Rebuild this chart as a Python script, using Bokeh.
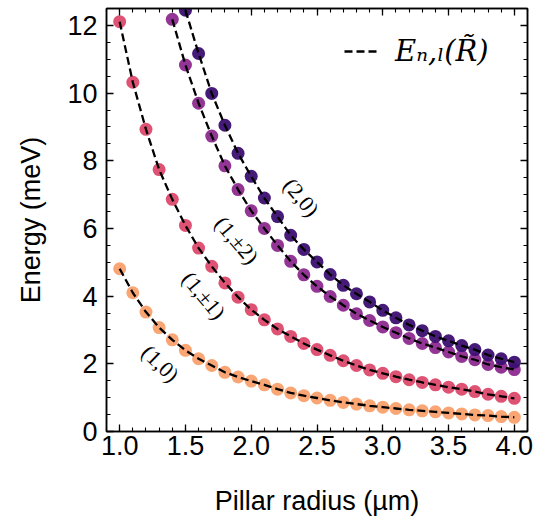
from bokeh.plotting import figure
from bokeh.models import (Range1d, LinearAxis, SingleIntervalTicker, PrintfTickFormatter,
                          CustomJSTickFormatter, Label, Legend, LegendItem, ColumnDataSource)
from bokeh.embed import file_html
from bokeh.resources import INLINE

# ---------------- data ----------------
R_all = [1.0, 1.1, 1.2, 1.3, 1.4, 1.5, 1.6, 1.7, 1.8, 1.9, 2.0, 2.1, 2.2, 2.3, 2.4, 2.5,
         2.6, 2.7, 2.8, 2.9, 3.0, 3.1, 3.2, 3.3, 3.4, 3.5, 3.6, 3.7, 3.8, 3.9, 4.0]

E_10 = [4.81, 4.10, 3.53, 3.07, 2.71, 2.40, 2.15, 1.95, 1.75, 1.61, 1.49, 1.38, 1.25, 1.14,
        1.06, 0.99, 0.92, 0.86, 0.81, 0.76, 0.72, 0.68, 0.64, 0.61, 0.58, 0.55, 0.52, 0.49,
        0.47, 0.44, 0.42]

E_11 = [12.11, 10.32, 8.93, 7.74, 6.86, 6.09, 5.42, 4.88, 4.39, 3.97, 3.60, 3.30, 3.03, 2.81,
        2.60, 2.42, 2.25, 2.09, 1.95, 1.82, 1.72, 1.62, 1.53, 1.45, 1.38, 1.31, 1.25, 1.18,
        1.10, 1.04, 0.98]

R_12 = [1.4, 1.5, 1.6, 1.7, 1.8, 1.9, 2.0, 2.1, 2.2, 2.3, 2.4, 2.5, 2.6, 2.7, 2.8, 2.9,
        3.0, 3.1, 3.2, 3.3, 3.4, 3.5, 3.6, 3.7, 3.8, 3.9, 4.0]
E_12 = [12.18, 10.83, 9.70, 8.73, 7.85, 7.15, 6.52, 6.00, 5.50, 5.03, 4.63, 4.29, 3.99, 3.73,
        3.48, 3.28, 3.09, 2.92, 2.75, 2.60, 2.48, 2.35, 2.22, 2.12, 1.98, 1.90, 1.83]

R_20 = [1.5, 1.6, 1.7, 1.8, 1.9, 2.0, 2.1, 2.2, 2.3, 2.4, 2.5, 2.6, 2.7, 2.8, 2.9,
        3.0, 3.1, 3.2, 3.3, 3.4, 3.5, 3.6, 3.7, 3.8, 3.9, 4.0]
E_20 = [12.45, 11.17, 9.99, 9.05, 8.22, 7.54, 6.90, 6.35, 5.80, 5.38, 5.01, 4.64, 4.32, 4.07,
        3.83, 3.58, 3.36, 3.15, 2.98, 2.81, 2.68, 2.54, 2.42, 2.26, 2.15, 2.05]

series_names = ["(1,0)", "(1,±1)", "(1,±2)", "(2,0)"]
series_colors = ["#F9A06D", "#DC4A6C", "#8C2A8E", "#3B0F70"]

# ---------------- figure ----------------
p = figure(width=539, height=524, x_range=Range1d(0.9, 4.1), y_range=Range1d(0, 12.5),
           output_backend="svg", toolbar_location=None,
           min_border_left=106, min_border_right=12, min_border_top=8, min_border_bottom=93,
           x_axis_label="Pillar radius (µm)", y_axis_label="Energy (meV)")
p.grid.visible = False
p.background_fill_color = "white"
p.border_fill_color = "white"
p.outline_line_color = "black"
p.outline_line_width = 1.5

xax = p.below[0]
yax = p.left[0]
xax.ticker = SingleIntervalTicker(interval=0.5, num_minor_ticks=5)
yax.ticker = SingleIntervalTicker(interval=2, num_minor_ticks=4)
xax.formatter = PrintfTickFormatter(format="%.1f")

top_ax = LinearAxis(ticker=SingleIntervalTicker(interval=0.5, num_minor_ticks=5),
                    formatter=CustomJSTickFormatter(code="return '';"), major_label_standoff=0)
right_ax = LinearAxis(ticker=SingleIntervalTicker(interval=2, num_minor_ticks=4),
                      formatter=CustomJSTickFormatter(code="return '';"), major_label_standoff=0)
p.add_layout(top_ax, "above")
p.add_layout(right_ax, "right")

for ax in (xax, yax, top_ax, right_ax):
    ax.axis_line_color = "black"
    ax.axis_line_width = 1.5
    ax.major_tick_line_color = "black"
    ax.minor_tick_line_color = "black"
    ax.major_tick_line_width = 1.3
    ax.minor_tick_line_width = 1.1
    ax.major_tick_in = 7
    ax.major_tick_out = 0
    ax.minor_tick_in = 4
    ax.minor_tick_out = 0

for ax in (xax, yax):
    ax.major_label_text_font = "Liberation Sans"
    ax.major_label_text_color = "black"
    ax.major_label_text_font_size = "27px"
    ax.axis_label_text_font = "Liberation Sans"
    ax.axis_label_text_font_style = "normal"
    ax.axis_label_text_color = "black"
    ax.axis_label_text_font_size = "27px"

xax.major_label_standoff = 4
xax.axis_label_standoff = 28
yax.major_label_standoff = 9
yax.axis_label_standoff = 18
yax.major_label_orientation = "horizontal"

# ---------------- data marks ----------------
xs_list = [R_all, R_all, R_12, R_20]
ys_list = [E_10, E_11, E_12, E_20]

for xs, ys, c in zip(xs_list, ys_list, series_colors):
    src = ColumnDataSource(dict(x=xs, y=ys))
    p.scatter("x", "y", source=src, size=13, fill_color=c, line_color=None, fill_alpha=0.95)

line_renderers = []
for xs, ys in zip(xs_list, ys_list):
    src = ColumnDataSource(dict(x=xs, y=ys))
    r = p.line("x", "y", source=src, line_color="black", line_width=2.3, line_dash="8 4")
    line_renderers.append(r)

# ---------------- legend ----------------
legend = Legend(items=[LegendItem(label="Eₙ,ₗ(R̃)", renderers=[line_renderers[0]])],
                location="top_right", border_line_color=None, background_fill_alpha=0,
                label_text_font="DejaVu Serif", label_text_font_style="italic",
                label_text_color="black",
                label_text_font_size="29px", glyph_width=36, glyph_height=20,
                label_standoff=15, label_width=106, margin=26, padding=8)
p.add_layout(legend)

# ---------------- curve labels ----------------
label_pos = [(1.31, 2.01, -44), (1.64, 4.02, -50), (1.89, 5.65, -50), (2.38, 6.92, -50)]
for name, (lx, ly, ang) in zip(series_names, label_pos):
    p.add_layout(Label(x=lx, y=ly, text=name, angle=ang, angle_units="deg",
                       text_font="Liberation Serif", text_font_size="22px",
                       text_align="center", text_baseline="middle", text_color="black"))

open("out.html", "w").write(file_html(p, INLINE))
